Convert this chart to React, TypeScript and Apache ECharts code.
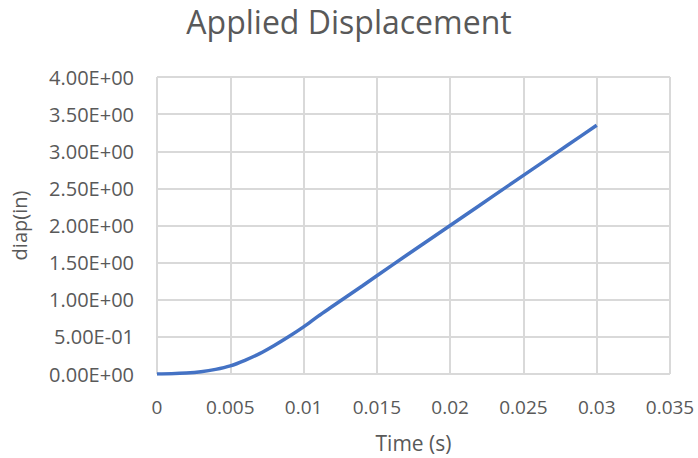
import React, { useEffect, useRef } from "react";
import * as echarts from "echarts";

const timeValues = [0, 0.001, 0.002, 0.003, 0.004, 0.005, 0.006, 0.007, 0.008, 0.009, 0.01, 0.011, 0.012, 0.014, 0.016, 0.018, 0.02, 0.022, 0.024, 0.026, 0.028, 0.03];
const dispValues = [0, 0.003, 0.012, 0.03, 0.062, 0.11, 0.185, 0.275, 0.385, 0.505, 0.635, 0.78, 0.915, 1.185, 1.46, 1.73, 2.0, 2.27, 2.54, 2.81, 3.08, 3.35];
const xTicks = { min: 0, max: 0.035, interval: 0.005 };
const yTicks = { min: 0, max: 4, interval: 0.5 };

const FONT = "'Open Sans', 'Liberation Sans', sans-serif";

function fmtExp(v: number): string {
  if (v === 0) return "0.00E+00";
  const e = Math.floor(Math.log10(Math.abs(v)) + 1e-9);
  const m = v / Math.pow(10, e);
  const sign = e < 0 ? "-" : "+";
  const ea = Math.abs(e);
  return m.toFixed(2) + "E" + sign + (ea < 10 ? "0" + ea : String(ea));
}

export default function App() {
  const ref = useRef<HTMLDivElement>(null);
  useEffect(() => {
    const chart = echarts.init(ref.current!, null, { renderer: "svg" });
    chart.setOption({
      animation: false,
      backgroundColor: "#ffffff",
      title: {
        text: "Applied Displacement",
        left: "center",
        top: 0,
        textStyle: { fontFamily: FONT, fontSize: 32, fontWeight: "normal", color: "#595959" },
      },
      grid: { left: 157, right: 28, top: 77, bottom: 84 },
      xAxis: {
        type: "value",
        min: xTicks.min,
        max: xTicks.max,
        interval: xTicks.interval,
        name: "Time (s)",
        nameLocation: "middle",
        nameGap: 58,
        nameTextStyle: { fontFamily: FONT, fontSize: 21, color: "#595959" },
        axisLine: { show: false },
        axisTick: { show: false },
        axisLabel: {
          fontFamily: FONT,
          fontSize: 19,
          color: "#595959",
          margin: 23,
          showMaxLabel: true,
          formatter: (v: number) => String(parseFloat(v.toFixed(4))),
        },
        splitLine: { show: true, lineStyle: { color: "#d9d9d9", width: 2 } },
      },
      yAxis: {
        type: "value",
        min: yTicks.min,
        max: yTicks.max,
        interval: yTicks.interval,
        name: "diap(in)",
        nameLocation: "middle",
        nameGap: 128,
        nameTextStyle: { fontFamily: FONT, fontSize: 20, color: "#595959" },
        axisLine: { show: false },
        axisTick: { show: false },
        axisLabel: {
          fontFamily: FONT,
          fontSize: 20,
          color: "#595959",
          margin: 23,
          formatter: (v: number) => fmtExp(v),
        },
        splitLine: { show: true, lineStyle: { color: "#d9d9d9", width: 2 } },
      },
      series: [
        {
          type: "line",
          data: timeValues.map((t, i) => [t, dispValues[i]]),
          showSymbol: false,
          smooth: 0.3,
          lineStyle: { color: "#4472c4", width: 3.5 },
        },
      ],
    });
    return () => chart.dispose();
  }, []);
  return <div ref={ref} style={{ width: 698, height: 458, position: "absolute", left: 0, top: 0 }} />;
}
